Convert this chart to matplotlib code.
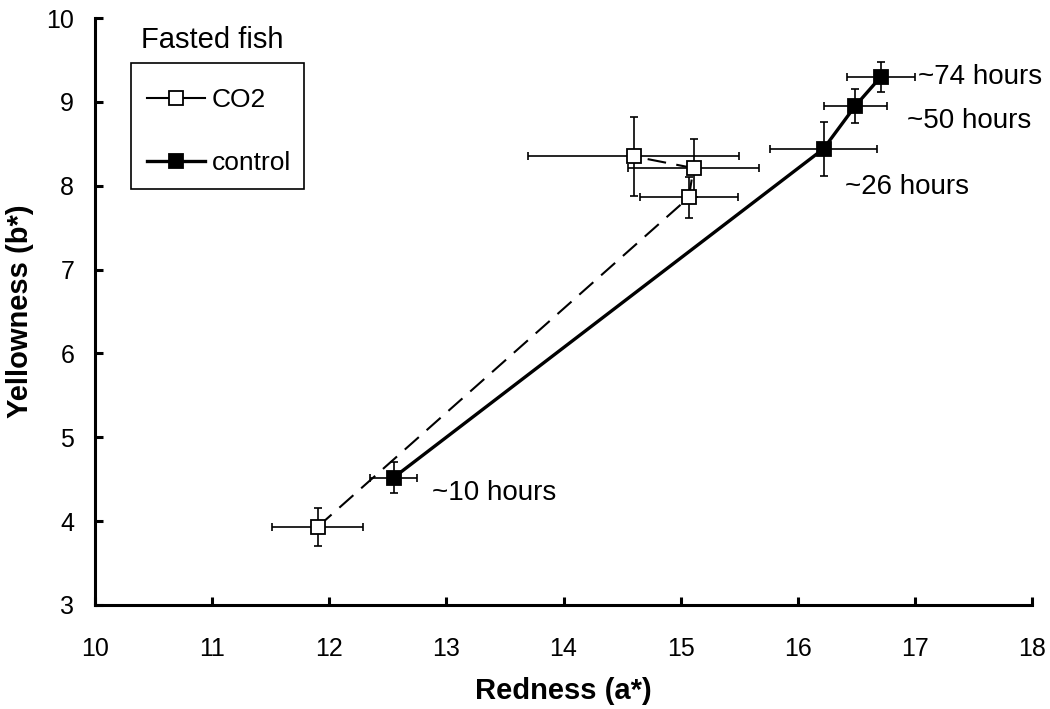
import matplotlib
matplotlib.use("Agg")
import matplotlib.pyplot as plt
from matplotlib.lines import Line2D
from matplotlib.patches import Rectangle

plt.rcParams['font.family'] = ['Liberation Sans', 'DejaVu Sans']

# ---- data ----
hour_labels = ['~10 hours', '~26 hours', '~50 hours', '~74 hours']

co2_x = [11.90, 15.07, 15.11, 14.60]
co2_y = [3.93, 7.86, 8.21, 8.35]
co2_xerr = [0.39, 0.42, 0.56, 0.90]
co2_yerr = [0.23, 0.24, 0.35, 0.47]

ctl_x = [12.55, 16.22, 16.49, 16.71]
ctl_y = [4.52, 8.44, 8.95, 9.30]
ctl_xerr = [0.20, 0.46, 0.27, 0.29]
ctl_yerr = [0.19, 0.32, 0.20, 0.18]

label_x = [12.88, 16.40, 16.93, 17.03]
label_y = [4.34, 7.98, 8.77, 9.30]

x_ticks = [10, 11, 12, 13, 14, 15, 16, 17, 18]
y_ticks = [3, 4, 5, 6, 7, 8, 9, 10]

# ---- figure ----
fig = plt.figure(figsize=(10.5, 7.09), dpi=100)
ax = fig.add_axes([95/1050, 104/709, 937/1050, 587/709])

# error bars
ax.errorbar(co2_x, co2_y, xerr=co2_xerr, yerr=co2_yerr, fmt='none',
            ecolor='black', elinewidth=1.2, capsize=3.2, capthick=1.2, zorder=2)
ax.errorbar(ctl_x, ctl_y, xerr=ctl_xerr, yerr=ctl_yerr, fmt='none',
            ecolor='black', elinewidth=1.2, capsize=3.2, capthick=1.2, zorder=2)

# lines
ax.plot(co2_x, co2_y, color='black', lw=1.5, linestyle=(0, (9, 5)), zorder=3)
ax.plot(ctl_x, ctl_y, color='black', lw=2.4, linestyle='-', zorder=3)

# markers
ax.plot(co2_x, co2_y, linestyle='none', marker='s', markersize=9.5,
        markerfacecolor='white', markeredgecolor='black', markeredgewidth=1.3, zorder=4)
ax.plot(ctl_x, ctl_y, linestyle='none', marker='s', markersize=10,
        markerfacecolor='black', markeredgecolor='black', markeredgewidth=1.3, zorder=4)

# annotations
for lx, ly, t in zip(label_x, label_y, hour_labels):
    ax.text(lx, ly, t, fontsize=20, ha='left', va='center', color='black')

# axes styling
ax.set_xlim(10, 18)
ax.set_ylim(3, 10)
ax.set_xticks(x_ticks)
ax.set_yticks(y_ticks)
ax.set_xticklabels([str(v) for v in x_ticks])
ax.set_yticklabels([str(v) for v in y_ticks])
for s in ['top', 'right']:
    ax.spines[s].set_visible(False)
for s in ['left', 'bottom']:
    ax.spines[s].set_linewidth(2.2)
ax.tick_params(axis='both', direction='in', length=6, width=2.2, labelsize=18)
ax.tick_params(axis='x', pad=23)
ax.tick_params(axis='y', pad=15)

ax.set_xlabel('Redness (a*)', fontsize=21, fontweight='bold', va='center')
ax.xaxis.set_label_coords(0.5, -0.147)
ax.set_ylabel('Yellowness (b*)', fontsize=21, fontweight='bold', va='center')
ax.yaxis.set_label_coords(-0.080, 0.50)

# legend
handles = [
    Line2D([0], [0], color='black', lw=1.5, marker='s', markersize=9.5,
           markerfacecolor='white', markeredgecolor='black', markeredgewidth=1.3),
    Line2D([0], [0], color='black', lw=2.4, marker='s', markersize=10,
           markerfacecolor='black', markeredgecolor='black', markeredgewidth=1.3),
]
leg = ax.legend(handles, ['CO2', 'control'], loc='center left',
                bbox_to_anchor=(52/937, 473.5/587), fontsize=19, frameon=False,
                borderpad=0, labelspacing=1.47, handlelength=2.2,
                handletextpad=0.25, numpoints=1, borderaxespad=0)
ax.add_patch(Rectangle((36/937, 416/587), 173/937, 126/587, transform=ax.transAxes,
                       facecolor='none', edgecolor='black', linewidth=1.2,
                       clip_on=False, zorder=5))

ax.text(0.1255, 0.963, 'Fasted fish', transform=ax.transAxes, fontsize=21,
        ha='center', va='center', clip_on=False)

fig.savefig('out.png', dpi=100)
